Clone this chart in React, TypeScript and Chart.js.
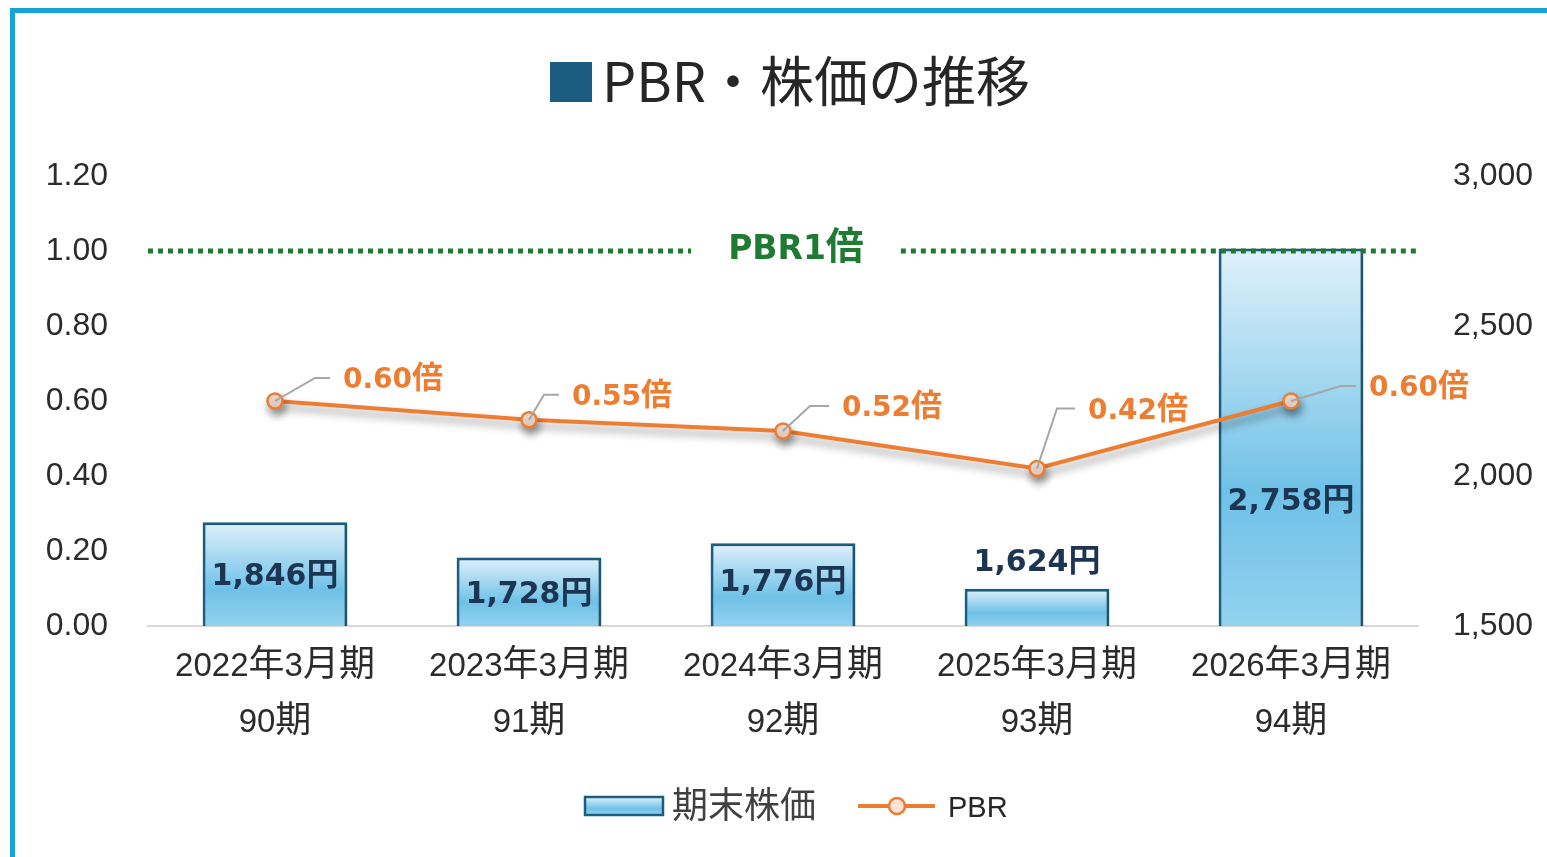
import React, { useEffect, useRef } from 'react';
import { Chart, registerables } from 'chart.js';

Chart.register(...registerables);

// ---------- data ----------
const categories: string[][] = [
  ['2022年3月期', '90期'],
  ['2023年3月期', '91期'],
  ['2024年3月期', '92期'],
  ['2025年3月期', '93期'],
  ['2026年3月期', '94期'],
];
const stockPrices = [1846, 1728, 1776, 1624, 2758];
const pbrValues = [0.6, 0.55, 0.52, 0.42, 0.6];
const pbrTicks = [0, 0.2, 0.4, 0.6, 0.8, 1.0, 1.2];
const priceTicks = [1500, 2000, 2500, 3000];
const pbrReference = 1.0;
const titleText = 'PBR・株価の推移';
const referenceLabel = 'PBR1倍';
const barSeriesName = '期末株価';
const lineSeriesName = 'PBR';

// ---------- label placement (layout only) ----------
const barLabelPlacement: (number | 'above')[] = [0, 0, -4, 'above', 62];
const lineLabelPlacement = [
  { dx: 68, dy: -23, ex: 40 },
  { dx: 43, dy: -25, ex: 15 },
  { dx: 59, dy: -25, ex: 27 },
  { dx: 51, dy: -60, ex: 20 },
  { dx: 78, dy: -15, ex: 50 },
];

const TICK_FAMILY = "'Liberation Sans', 'Noto Sans CJK JP', sans-serif";
const CJK = "'Noto Sans CJK JP', sans-serif";
const BAR_BORDER = '#1b5e80';
const ORANGE = '#ed7d31';
const TEXT = '#2b2b2b';

function isCJK(ch: string) {
  return /[\u3000-\u30ff\u3400-\u9fff\uff00-\uffef]/.test(ch);
}

function drawMixed(
  ctx: CanvasRenderingContext2D,
  text: string,
  x: number,
  cy: number,
  latinFont: string,
  cjkFont: string,
  latinSize: number,
  align: 'left' | 'center'
) {
  const runs: { t: string; c: boolean; w: number }[] = [];
  for (const ch of text) {
    const c = isCJK(ch);
    if (runs.length && runs[runs.length - 1].c === c) runs[runs.length - 1].t += ch;
    else runs.push({ t: ch, c, w: 0 });
  }
  let total = 0;
  for (const r of runs) {
    ctx.font = r.c ? cjkFont : latinFont;
    r.w = ctx.measureText(r.t).width;
    total += r.w;
  }
  let cx = align === 'center' ? x - total / 2 : x;
  ctx.textAlign = 'left';
  ctx.textBaseline = 'alphabetic';
  const baseline = cy + latinSize * 0.36;
  for (const r of runs) {
    ctx.font = r.c ? cjkFont : latinFont;
    ctx.fillText(r.t, cx, baseline);
    cx += r.w;
  }
  return total;
}

function barGradient(ctx: CanvasRenderingContext2D, top: number, bottom: number) {
  const g = ctx.createLinearGradient(0, top, 0, bottom);
  g.addColorStop(0, '#e0f1fb');
  g.addColorStop(0.65, '#6fc1e7');
  g.addColorStop(1, '#92d2ef');
  return g;
}

const decorPlugin = {
  id: 'decor',
  beforeDatasetDraw(chart: any, args: any) {
    const ctx = chart.ctx;
    ctx.save();
    if (args.meta.type === 'line') {
      ctx.shadowColor = 'rgba(0,0,0,0.4)';
      ctx.shadowBlur = 8;
      ctx.shadowOffsetX = 2;
      ctx.shadowOffsetY = 6;
    } else {
      ctx.shadowColor = 'rgba(0,0,0,0.18)';
      ctx.shadowBlur = 4;
      ctx.shadowOffsetX = 2;
      ctx.shadowOffsetY = 1;
    }
  },
  afterDatasetDraw(chart: any) {
    chart.ctx.restore();
  },
  afterDatasetsDraw(chart: any) {
    const ctx: CanvasRenderingContext2D = chart.ctx;
    const area = chart.chartArea;
    const yL = chart.scales.y;
    const xs = chart.scales.x;

    // x-axis category labels (two lines)
    ctx.save();
    ctx.fillStyle = TEXT;
    categories.forEach((lines, i) => {
      const px = xs.getPixelForValue(i);
      lines.forEach((ln, j) => {
        drawMixed(ctx, ln, px, area.bottom + 38 + j * 56, "33px 'Liberation Sans'", `36px ${CJK}`, 33, 'center');
      });
    });
    ctx.restore();

    // PBR 1x reference line
    const refY = yL.getPixelForValue(pbrReference);
    ctx.save();
    const refCx = (area.left + area.right) / 2 + 13;
    ctx.fillStyle = '#1f7a32';
    const tw = drawMixed(ctx, referenceLabel, refCx, refY - 4, "bold 33px 'DejaVu Sans'", `bold 38px ${CJK}`, 33, 'center');
    ctx.strokeStyle = '#1e7b2e';
    ctx.lineWidth = 5;
    ctx.setLineDash([5, 5]);
    ctx.beginPath();
    ctx.moveTo(area.left, refY);
    ctx.lineTo(refCx - tw / 2 - 37, refY);
    ctx.moveTo(refCx + tw / 2 + 37, refY);
    ctx.lineTo(area.right, refY);
    ctx.stroke();
    ctx.restore();

    // bar labels
    const barMeta = chart.getDatasetMeta(1);
    ctx.save();
    ctx.fillStyle = '#1c3553';
    barMeta.data.forEach((bar: any, i: number) => {
      const place = barLabelPlacement[i];
      const top = bar.y;
      const base = Math.min(bar.base, area.bottom);
      const cy = place === 'above' ? top - 29 : (top + base) / 2 + (place as number);
      drawMixed(
        ctx,
        stockPrices[i].toLocaleString('en-US') + '円',
        bar.x,
        cy,
        "bold 30px 'DejaVu Sans'",
        `bold 32px ${CJK}`,
        30,
        'center'
      );
    });
    ctx.restore();

    // line labels with leaders
    const lineMeta = chart.getDatasetMeta(0);
    ctx.save();
    lineMeta.data.forEach((pt: any, i: number) => {
      const p = lineLabelPlacement[i];
      const lx = pt.x + p.dx;
      const ly = pt.y + p.dy;
      ctx.strokeStyle = '#a6a6a6';
      ctx.lineWidth = 2;
      ctx.beginPath();
      ctx.moveTo(pt.x, pt.y);
      ctx.lineTo(pt.x + p.ex, ly);
      ctx.lineTo(lx - 13, ly);
      ctx.stroke();
      ctx.fillStyle = ORANGE;
      drawMixed(
        ctx,
        pbrValues[i].toFixed(2) + '倍',
        lx,
        ly,
        "bold 28px 'DejaVu Sans'",
        `bold 31px ${CJK}`,
        28,
        'left'
      );
    });
    ctx.restore();
  },
  afterDraw(chart: any) {
    const ctx: CanvasRenderingContext2D = chart.ctx;
    const W = chart.width;
    const H = chart.height;
    ctx.save();
    // frame
    ctx.fillStyle = '#17a2d9';
    ctx.fillRect(10, 8, W - 10, 5);
    ctx.fillRect(10, 8, 5, H - 8);

    // title
    ctx.font = `54px ${CJK}`;
    const tW = ctx.measureText(titleText).width;
    const total = 42 + 10 + tW;
    const sx = 790 - total / 2;
    ctx.fillStyle = '#1b5c80';
    ctx.fillRect(sx, 62, 42, 40);
    ctx.fillStyle = '#262626';
    ctx.textAlign = 'left';
    ctx.textBaseline = 'alphabetic';
    ctx.fillText(titleText, sx + 52, 102);

    // legend
    const lgY = 806;
    const bx = 585;
    ctx.fillStyle = barGradient(ctx, lgY - 9, lgY + 9);
    ctx.fillRect(bx, lgY - 9, 78, 18);
    ctx.strokeStyle = BAR_BORDER;
    ctx.lineWidth = 2.5;
    ctx.strokeRect(bx, lgY - 9, 78, 18);
    ctx.fillStyle = '#404040';
    ctx.font = `36px ${CJK}`;
    ctx.textBaseline = 'middle';
    ctx.fillText(barSeriesName, 672, lgY - 2);

    ctx.strokeStyle = ORANGE;
    ctx.lineWidth = 4;
    ctx.beginPath();
    ctx.moveTo(858, lgY);
    ctx.lineTo(935, lgY);
    ctx.stroke();
    ctx.beginPath();
    ctx.arc(897, lgY, 8, 0, Math.PI * 2);
    ctx.fillStyle = '#fbe3d6';
    ctx.fill();
    ctx.lineWidth = 2.5;
    ctx.stroke();
    ctx.fillStyle = '#262626';
    ctx.font = "29px 'Liberation Sans'";
    ctx.textBaseline = 'alphabetic';
    ctx.fillText(lineSeriesName, 948, lgY + 11);
    ctx.restore();
  },
};

export default function App() {
  const ref = useRef<HTMLCanvasElement | null>(null);

  useEffect(() => {
    if (!ref.current) return;
    const chart = new Chart(ref.current, {
      type: 'bar',
      data: {
        labels: categories.map((c) => c.join(' ')),
        datasets: [
          {
            type: 'line',
            label: lineSeriesName,
            data: pbrValues,
            yAxisID: 'y',
            borderColor: ORANGE,
            borderWidth: 4,
            pointRadius: 7.5,
            pointBackgroundColor: '#fbe3d6',
            pointBorderColor: ORANGE,
            pointBorderWidth: 2.5,
            tension: 0,
            order: 0,
          } as any,
          {
            type: 'bar',
            label: barSeriesName,
            data: stockPrices,
            yAxisID: 'y1',
            barPercentage: 0.57,
            categoryPercentage: 1,
            borderColor: BAR_BORDER,
            borderWidth: 3,
            borderSkipped: 'bottom',
            backgroundColor: (c: any) => {
              const chart = c.chart;
              const area = chart.chartArea;
              if (!area || c.type !== 'data' || !chart.scales.y1) return '#7cc6e8';
              const top = chart.scales.y1.getPixelForValue(c.raw);
              return barGradient(chart.ctx, top, area.bottom);
            },
            order: 1,
          } as any,
        ],
      },
      options: {
        responsive: true,
        maintainAspectRatio: false,
        animation: false,
        layout: { padding: { top: 176, left: 0, right: 0, bottom: 0 } },
        plugins: {
          legend: { display: false },
          tooltip: { enabled: false },
          title: { display: false },
        },
        scales: {
          x: {
            grid: { display: false, drawTicks: false },
            border: { display: true, color: '#d9d9d9', width: 2 },
            ticks: { display: false },
            afterFit: (s: any) => {
              s.height = 231;
            },
          },
          y: {
            position: 'left',
            min: 0,
            max: 1.2,
            grid: { display: false, drawTicks: false },
            border: { display: false },
            afterBuildTicks: (s: any) => {
              s.ticks = pbrTicks.map((v) => ({ value: v }));
            },
            ticks: {
              padding: 40,
              color: TEXT,
              font: { size: 32, family: TICK_FAMILY },
              callback: (v: any) => Number(v).toFixed(2),
            },
            afterFit: (s: any) => {
              s.width = 148;
            },
          },
          y1: {
            position: 'right',
            min: 1500,
            max: 3000,
            grid: { display: false, drawTicks: false },
            border: { display: false },
            afterBuildTicks: (s: any) => {
              s.ticks = priceTicks.map((v) => ({ value: v }));
            },
            ticks: {
              padding: 35,
              color: TEXT,
              font: { size: 32, family: TICK_FAMILY },
              callback: (v: any) => Number(v).toLocaleString('en-US'),
            },
            afterFit: (s: any) => {
              s.width = 129;
            },
          },
        },
      },
      plugins: [decorPlugin],
    });
    return () => chart.destroy();
  }, []);

  return (
    <div style={{ position: 'fixed', left: 0, top: 0, width: 1547, height: 857, background: '#fff' }}>
      <canvas ref={ref} />
    </div>
  );
}
